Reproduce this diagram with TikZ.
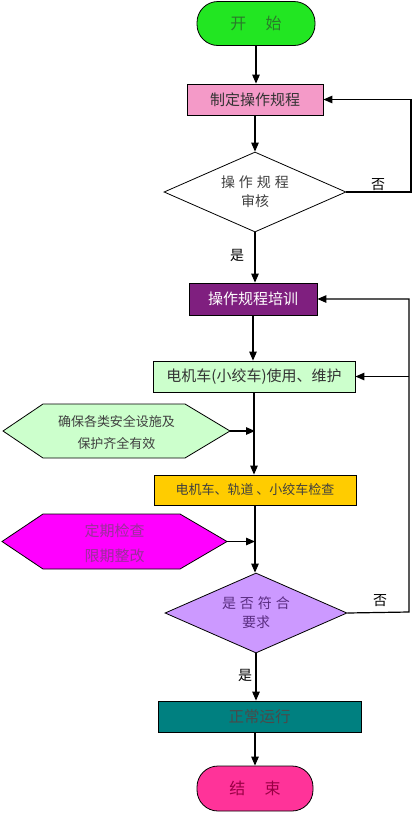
\documentclass[tikz,border=0pt]{standalone}
\usepackage{fontspec}
\setmainfont{Noto Sans CJK SC}
\usetikzlibrary{arrows.meta,shapes.geometric}
\definecolor{startg}{HTML}{22E622}
\definecolor{startt}{HTML}{2A7A2A}
\definecolor{pinkb}{HTML}{F49AC8}
\definecolor{purpb}{HTML}{7F1F7F}
\definecolor{lgreen}{HTML}{CCFFCC}
\definecolor{goldb}{HTML}{FFCC00}
\definecolor{magb}{HTML}{FF00FF}
\definecolor{magt}{HTML}{9A2F9A}
\definecolor{lavb}{HTML}{CC99FF}
\definecolor{lavt}{HTML}{5A2D82}
\definecolor{tealb}{HTML}{008080}
\definecolor{tealt}{HTML}{4A4A4A}
\definecolor{endb}{HTML}{FF3399}
\definecolor{endt}{HTML}{990044}
\newcommand{\gp}{\hspace{4pt}}
\begin{document}
\begin{tikzpicture}[x=1pt,y=-1pt,
  box/.style={draw=black,line width=0.8pt,rectangle,inner sep=0pt,font=\fontsize{15}{18}\selectfont},
  term/.style={draw=black,line width=0.8pt,rectangle,rounded corners=21pt,inner sep=0pt,font=\fontsize{16}{19}\selectfont},
  dia/.style={diamond,aspect=2.3,draw=black,line width=0.8pt,inner sep=0pt,minimum width=182pt,minimum height=80pt,align=center},
  hexlab/.style={inner sep=0pt,align=center},
  hexshape/.style={draw=black,line width=0.8pt},
  conn/.style={line width=1.2pt,-{Triangle[length=9pt,width=7.5pt]}},
  lab/.style={inner sep=0pt,font=\fontsize{14}{16}\selectfont}
]
\useasboundingbox (0,0) rectangle (415,815);

% terminals and boxes
\node[term,fill=startg,text=startt,minimum width=118pt,minimum height=44pt] (start) at (256,23.5) {开\hspace{1.2em}始};
\node[box,fill=pinkb,text=black!80,minimum width=136pt,minimum height=31pt] (b1) at (255,99.5) {制定操作规程};
\node[dia,fill=white,text=black!75,font=\fontsize{14}{19}\selectfont] (d1) at (255,192) {操\gp 作\gp 规\gp 程\\审核};
\node[box,fill=purpb,text=white,minimum width=128pt,minimum height=32pt] (b2) at (253,299) {操作规程培训};
\node[box,fill=lgreen,text=black!80,minimum width=202pt,minimum height=31pt] (b3) at (254,376.5) {电机车(小绞车)使用、维护};
\node[box,fill=goldb,text=black!75,minimum width=202pt,minimum height=30pt,font=\fontsize{13}{16}\selectfont] (b4) at (255,490) {电机车、轨道\ 、小绞车检查};
\node[dia,fill=lavb,text=lavt,font=\fontsize{14}{19}\selectfont] (d2) at (256,613) {是\gp 否\gp 符\gp 合\\要求};
\node[box,fill=tealb,text=tealt,minimum width=203pt,minimum height=31pt,font=\fontsize{15.5}{18}\selectfont] (b5) at (259.5,716.5) {正常运行};
\node[term,fill=endb,text=endt,minimum width=116pt,minimum height=45pt] (end) at (255,788.5) {结\hspace{1.2em}束};

% hexagon 1
\fill[lgreen] (3,431) -- (43,404) -- (185,404) -- (230,431) -- (185,458) -- (43,458) -- cycle;
\draw[hexshape] (3,431) -- (43,404) -- (185,404) -- (230,431) -- (185,458) -- (43,458) -- cycle;
\node[hexlab,text=black!75,font=\fontsize{13}{22}\selectfont] (h1) at (116.5,432) {确保各类安全设施及\\保护齐全有效};
\coordinate (h1tip) at (230,431);

% hexagon 2
\fill[magb] (2,541.5) -- (43,514) -- (180,514) -- (227,541.5) -- (180,569) -- (43,569) -- cycle;
\draw[hexshape] (2,541.5) -- (43,514) -- (180,514) -- (227,541.5) -- (180,569) -- (43,569) -- cycle;
\node[hexlab,text=magt,font=\fontsize{15}{25}\selectfont] (h2) at (114.5,543) {定期检查\\限期整改};
\coordinate (h2tip) at (227,541.5);

% main flow
\draw[conn] (start.south) -- (start.south |- b1.north);
\draw[conn] (b1.south) -- (b1.south |- d1.north);
\draw[conn] (d1.south) -- (d1.south |- b2.north);
\draw[conn] (b2.south) -- (b2.south |- b3.north);
\draw[conn] (b3.south) -- (b3.south |- b4.north);
\draw[conn] (b4.south) -- (b4.south |- d2.north);
\draw[conn] (d2.south) -- (d2.south |- b5.north);
\draw[conn] (end.north |- b5.south) -- (end.north);

% side inputs
\draw[conn] (h1tip) -- (h1tip -| b4.north);
\draw[conn] (h2tip) -- (h2tip -| b4.south);

% loops
\coordinate (r1) at (411,192);
\draw[conn] (d1.east) -- (r1) |- (b1.east);
\coordinate (r2) at (409,612);
\draw[conn] (d2.east) -- (r2) |- (b2.east);
\draw[conn] (r2 |- b3.east) -- (b3.east);

% labels
\node[lab] (no1) at (378,185) {否};
\node[lab] (yes1) at (237,255) {是};
\node[lab] (no2) at (380,601) {否};
\node[lab] (yes2) at (245,675) {是};
\end{tikzpicture}
\end{document}
